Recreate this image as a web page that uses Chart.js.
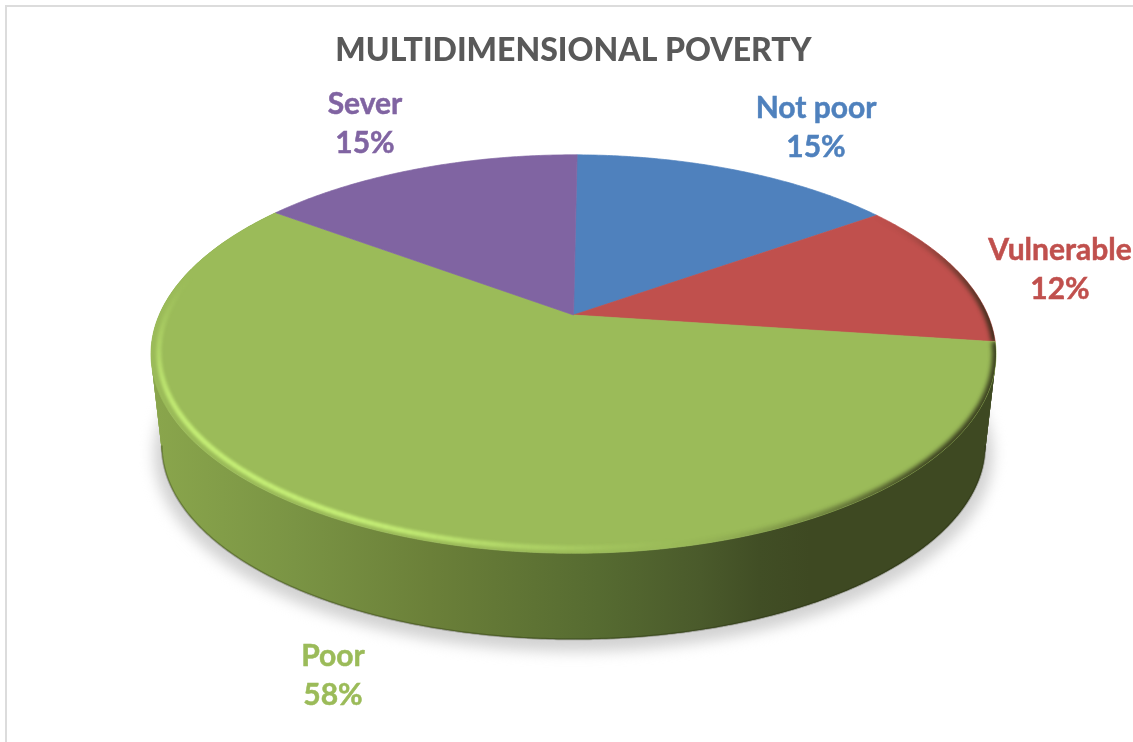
<!DOCTYPE html>
<html>
<head>
<meta charset="utf-8">
<title>Multidimensional poverty</title>
<script src="https://cdn.jsdelivr.net/npm/chart.js@4/dist/chart.umd.min.js"></script>
<style>
    html, body { margin: 0; padding: 0; background: #fff; }
    #chart-box { width: 1133px; height: 742px; }
</style>
</head>
<body>
<div id="chart-box"><canvas id="chart"></canvas></div>
<script>
const categories = ['Not poor', 'Vulnerable', 'Poor', 'Sever'];
const shares = [15, 12, 58, 15];
const sliceColours = ['#4f81bd', '#c0504d', '#9bbb59', '#8064a2'];

const labelFont = 'bold 30px Lato';
const labelLineGap = 39;
const labelCentres = [[816, 108], [1060, 250], [333, 656], [365, 104]];

// perspective of the disc, everything is relative to the pie radius
const topFace = { drop: 0, width: 1.687, depth: 0.78 };
const bottomFace = { drop: 0.3765, width: 1.644, depth: 0.759 };
const tilt = 0.196;
const STEP = Math.PI / 360;

const wallStops = [
    [0, '#8aa64c'], [0.17, '#7a9444'], [0.33, '#6b8039'], [0.53, '#566b31'],
    [0.65, '#4a5a2b'], [0.72, '#414e25'], [0.78, '#3e4922'], [1, '#3e4922']
];

function project(arc, theta, face, radius) {
    const r = radius === undefined ? 1 : radius;
    const X = r * Math.sin(theta);
    const Y = r * Math.cos(theta);
    const w = 1 + tilt * Y;
    return {
        x: arc.x + arc.outerRadius * face.width * X / w,
        y: arc.y + arc.outerRadius * (face.drop - face.depth * Y / w)
    };
}

function traceRim(ctx, arc, from, to, face, radius) {
    const n = Math.max(1, Math.ceil(Math.abs(to - from) / STEP));
    for (let i = 0; i <= n; i++) {
        const p = project(arc, from + (to - from) * i / n, face, radius);
        ctx.lineTo(p.x, p.y);
    }
}

function ramp(v, a, b) {
    const t = Math.min(1, Math.max(0, (v - a) / (b - a)));
    return t * t * (3 - 2 * t);
}

// one blurred stroke along the rim, alpha depends on the direction of the rim
function drawRimGlow(ctx, arc, from, to, radius, rgb, width, blur, alphaAt) {
    const layer = document.createElement('canvas');
    layer.width = ctx.canvas.width;
    layer.height = ctx.canvas.height;
    const lc = layer.getContext('2d');
    const stepSize = Math.PI / 180;
    lc.lineWidth = width;
    for (let t = from; t < to; t += stepSize) {
        const alpha = alphaAt((t + stepSize / 2) * 180 / Math.PI);
        if (alpha < 0.01) continue;
        lc.beginPath();
        traceRim(lc, arc, t, Math.min(to, t + stepSize), topFace, radius);
        lc.strokeStyle = 'rgba(' + rgb + ',' + alpha + ')';
        lc.stroke();
    }
    ctx.filter = 'blur(' + blur + 'px)';
    ctx.drawImage(layer, 0, 0);
    ctx.filter = 'none';
}

// the pie stays a normal Chart.js pie, each slice only goes through the perspective
Chart.ArcElement.prototype.draw = function (ctx) {
    const arc = this.getProps(['x', 'y', 'startAngle', 'endAngle', 'outerRadius']);
    const from = arc.startAngle + Math.PI / 2;
    const to = arc.endAngle + Math.PI / 2;

    ctx.save();
    ctx.beginPath();
    ctx.moveTo(arc.x, arc.y);
    traceRim(ctx, arc, from, to, topFace);
    ctx.closePath();
    ctx.fillStyle = this.options.backgroundColor;
    ctx.strokeStyle = this.options.backgroundColor;
    ctx.lineWidth = 0.7;
    ctx.fill();
    ctx.stroke();
    ctx.clip();

    // bevel: dark towards the right, bright towards the lower left
    drawRimGlow(ctx, arc, from, to, 1, '40,40,20', 8, 2, function (deg) {
        return 0.85 * ramp(deg, 52, 96) * (1 - ramp(deg, 125, 172));
    });
    drawRimGlow(ctx, arc, from, to, 0.982, '200,242,120', 5, 1.6, function (deg) {
        return 0.95 * ramp(deg, 165, 208) * (1 - ramp(deg, 235, 285));
    });
    ctx.restore();
};

const framePlugin = {
    id: 'frame',
    beforeDraw(chart) {
        const ctx = chart.ctx;
        ctx.save();
        ctx.strokeStyle = '#dcdcdc';
        ctx.lineWidth = 2;
        ctx.beginPath();
        ctx.moveTo(6, chart.height);
        ctx.lineTo(6, 6);
        ctx.lineTo(chart.width, 6);
        ctx.stroke();
        ctx.restore();
    }
};

const wallPlugin = {
    id: 'wall',
    beforeDatasetsDraw(chart) {
        const ctx = chart.ctx;
        const arcs = chart.getDatasetMeta(0).data;
        const first = arcs[0].getProps(['x', 'y', 'outerRadius']);

        // shadow on the ground
        ctx.save();
        ctx.filter = 'blur(7px)';
        ctx.fillStyle = '#d2d2d2';
        ctx.beginPath();
        traceRim(ctx, { x: first.x, y: first.y + 7, outerRadius: first.outerRadius }, 0, Math.PI * 2, bottomFace, 1.018);
        ctx.closePath();
        ctx.fill();
        ctx.restore();

        const left = first.x - first.outerRadius * topFace.width * 1.02;
        const right = first.x + first.outerRadius * topFace.width * 1.02;

        for (let i = 0; i < arcs.length; i++) {
            if (categories[i] !== 'Poor') continue; // the others face away from the viewer
            const arc = arcs[i].getProps(['x', 'y', 'startAngle', 'endAngle', 'outerRadius']);
            const from = arc.startAngle + Math.PI / 2;
            const to = arc.endAngle + Math.PI / 2;

            const grad = ctx.createLinearGradient(left, 0, right, 0);
            wallStops.forEach(function (s) { grad.addColorStop(s[0], s[1]); });

            // strip by strip, so the silhouette stays tangent to both rims
            ctx.save();
            ctx.fillStyle = grad;
            const stripSize = Math.PI / 180;
            for (let t = from; t < to; t += stripSize) {
                const end = Math.min(to, t + stripSize * 2);
                ctx.beginPath();
                traceRim(ctx, arc, t, end, topFace);
                traceRim(ctx, arc, end, t, bottomFace);
                ctx.closePath();
                ctx.fill();
            }

            // darker line where the wall meets the ground, front half of the rim only
            const frontHalf = Math.acos(-tilt);
            ctx.beginPath();
            traceRim(ctx, arc, Math.max(from, frontHalf), Math.min(to, Math.PI * 2 - frontHalf), bottomFace);
            ctx.strokeStyle = 'rgba(30,35,10,0.3)';
            ctx.lineWidth = 2;
            ctx.filter = 'blur(0.7px)';
            ctx.stroke();
            ctx.restore();
        }
    }
};

const labelPlugin = {
    id: 'sliceLabels',
    afterDatasetsDraw(chart) {
        const ctx = chart.ctx;
        const values = chart.data.datasets[0].data;
        ctx.save();
        ctx.font = labelFont;
        ctx.textAlign = 'center';
        ctx.textBaseline = 'middle';
        ctx.lineWidth = 0.5;
        for (let i = 0; i < values.length; i++) {
            const lines = [chart.data.labels[i], values[i] + '%'];
            ctx.fillStyle = sliceColours[i];
            ctx.strokeStyle = sliceColours[i];
            lines.forEach(function (line, n) {
                const y = labelCentres[i][1] + n * labelLineGap;
                ctx.fillText(line, labelCentres[i][0], y);
                ctx.strokeText(line, labelCentres[i][0], y);
            });
        }
        ctx.restore();
    }
};

new Chart(document.getElementById('chart'), {
    type: 'pie',
    data: {
        labels: categories,
        datasets: [{
            data: shares,
            backgroundColor: sliceColours,
            borderWidth: 0,
            clip: false
        }]
    },
    options: {
        responsive: true,
        maintainAspectRatio: false,
        animation: false,
        rotation: 0.6,
        layout: { padding: { left: 14, bottom: 181.4 } },
        plugins: {
            legend: { display: false },
            tooltip: { enabled: false },
            title: {
                display: true,
                text: 'MULTIDIMENSIONAL POVERTY',
                color: '#595959',
                font: { family: 'Lato', size: 32, weight: '900', lineHeight: 1.2 },
                padding: { top: 31, bottom: 0 }
            }
        }
    },
    plugins: [framePlugin, wallPlugin, labelPlugin]
});
</script>
</body>
</html>
